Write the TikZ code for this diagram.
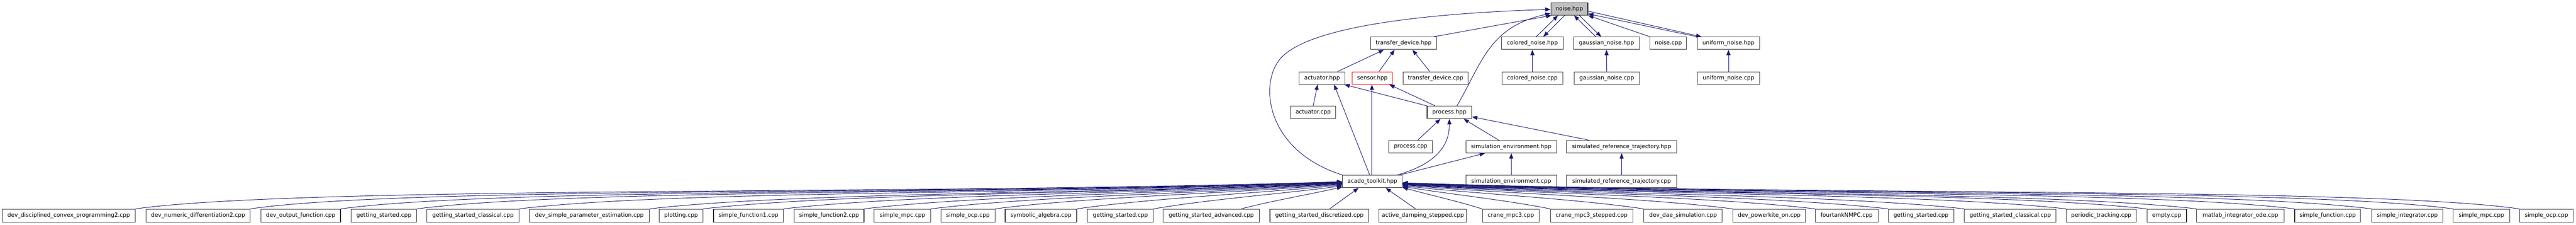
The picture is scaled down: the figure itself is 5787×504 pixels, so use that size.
\documentclass[tikz,border=0pt]{standalone}
\usepackage{fontspec}
\setmainfont{DejaVu Sans}
\usetikzlibrary{arrows.meta,calc}
\definecolor{edgec}{HTML}{191970}
\definecolor{rootfill}{HTML}{BFBFBF}
\tikzset{
  fbox/.style={draw=black!80, line width=1.3pt, fill=white, inner xsep=1pt, inner ysep=0pt,
    minimum height=28pt, font=\fontsize{12.6}{14}\selectfont, anchor=center},
  dep/.style={draw=edgec, line width=1.1pt, -{Triangle[length=12pt,width=9pt]}},
  depr/.style={draw=edgec, line width=1.1pt, {Triangle[length=12pt,width=9pt]}-},
}
\newcommand\bcurve[2]{\draw[depr] let \p1=(#1), \p2=(#2),
  \n1={min(1,abs((\x2)-(\x1))/2500)} in
  (\p1) .. controls ({\x1+((\x2)-(\x1))*(1/3+\n1*(0.35-1/3))},{\y1+((\y2)-(\y1))*(1/3+\n1*(0.5-1/3))})
  and ({\x2-((\x2)-(\x1))*(1/3+\n1*(0.14-1/3))},{\y2-((\y2)-(\y1))*(1/3+\n1*(0.85-1/3))}) .. (\p2);}
\begin{document}
\begin{tikzpicture}[x=1pt,y=-1pt]
\fill[white] (0,0) rectangle (5787,504);
\useasboundingbox (0,0) rectangle (5787,504);
% top part
\node[fbox, fill=rootfill, minimum width=83pt] (noise) at (3525.5,20) {noise.hpp};
\node[fbox, minimum width=148pt] (tdh) at (3153,97) {transfer\_device.hpp};
\node[fbox, minimum width=139pt] (cnh) at (3442.5,97) {colored\_noise.hpp};
\node[fbox, minimum width=148pt] (gnh) at (3609,97) {gaussian\_noise.hpp};
\node[fbox, minimum width=82pt] (ncpp) at (3748,97) {noise.cpp};
\node[fbox, minimum width=140pt] (unh) at (3883,97) {uniform\_noise.hpp};
\node[fbox, minimum width=103pt] (act) at (2970,175) {actuator.hpp};
\node[fbox, draw=red, minimum width=90pt] (sen) at (3083,175) {sensor.hpp};
\node[fbox, minimum width=146pt] (tdc) at (3225,175) {transfer\_device.cpp};
\node[fbox, minimum width=137pt] (cnc) at (3442.5,175) {colored\_noise.cpp};
\node[fbox, minimum width=147pt] (gnc) at (3609.5,175) {gaussian\_noise.cpp};
\node[fbox, minimum width=140pt] (unc) at (3883,175) {uniform\_noise.cpp};
\node[fbox, minimum width=102pt] (actc) at (2950,252) {actuator.cpp};
\node[fbox, minimum width=100pt] (proc) at (3256,252) {process.hpp};
\node[fbox, minimum width=98pt] (procc) at (3169,329) {process.cpp};
\node[fbox, minimum width=204pt] (seh) at (3395,329) {simulation\_environment.hpp};
\node[fbox, minimum width=248pt] (srth) at (3643,329) {simulated\_reference\_trajectory.hpp};
\node[fbox, minimum width=134pt] (acado) at (3083,407) {acado\_toolkit.hpp};
\node[fbox, minimum width=204pt] (sec) at (3395,407) {simulation\_environment.cpp};
\node[fbox, minimum width=248pt] (srtc) at (3643,407) {simulated\_reference\_trajectory.cpp};
% bottom row
\tikzset{brow/.style={fbox, minimum height=29pt}}
\node[brow, minimum width=299pt] (b1) at (154.5,483.5) {dev\_disciplined\_convex\_programming2.cpp};
\node[brow, minimum width=234pt] (b2) at (445,483.5) {dev\_numeric\_differentiation2.cpp};
\node[brow, minimum width=179pt] (b3) at (675.5,483.5) {dev\_output\_function.cpp};
\node[brow, minimum width=147pt] (b4) at (862.5,483.5) {getting\_started.cpp};
\node[brow, minimum width=207pt] (b5) at (1062.5,483.5) {getting\_started\_classical.cpp};
\node[brow, minimum width=270pt] (b6) at (1324,483.5) {dev\_simple\_parameter\_estimation.cpp};
\node[brow, minimum width=98pt] (b7) at (1530,483.5) {plotting.cpp};
\node[brow, minimum width=157pt] (b8) at (1681.5,483.5) {simple\_function1.cpp};
\node[brow, minimum width=157pt] (b9) at (1862.5,483.5) {simple\_function2.cpp};
\node[brow, minimum width=127pt] (b10) at (2027.5,483.5) {simple\_mpc.cpp};
\node[brow, minimum width=121pt] (b11) at (2174.5,483.5) {simple\_ocp.cpp};
\node[brow, minimum width=161pt] (b12) at (2338.5,483.5) {symbolic\_algebra.cpp};
\node[brow, minimum width=148pt] (b13) at (2517,483.5) {getting\_started.cpp};
\node[brow, minimum width=216pt] (b14) at (2721,483.5) {getting\_started\_advanced.cpp};
\node[brow, minimum width=222pt] (b15) at (2964,483.5) {getting\_started\_discretized.cpp};
\node[brow, minimum width=197pt] (b16) at (3196.5,483.5) {active\_damping\_stepped.cpp};
\node[brow, minimum width=128pt] (b17) at (3394,483.5) {crane\_mpc3.cpp};
\node[brow, minimum width=185pt] (b18) at (3575.5,483.5) {crane\_mpc3\_stepped.cpp};
\node[brow, minimum width=176pt] (b19) at (3781,483.5) {dev\_dae\_simulation.cpp};
\node[brow, minimum width=163pt] (b20) at (3974.5,483.5) {dev\_powerkite\_on.cpp};
\node[brow, minimum width=141pt] (b21) at (4148.5,483.5) {fourtankNMPC.cpp};
\node[brow, minimum width=147pt] (b22) at (4315.5,483.5) {getting\_started.cpp};
\node[brow, minimum width=206pt] (b23) at (4516,483.5) {getting\_started\_classical.cpp};
\node[brow, minimum width=157pt] (b24) at (4720.5,483.5) {periodic\_tracking.cpp};
\node[brow, minimum width=89pt] (b25) at (4867.5,483.5) {empty.cpp};
\node[brow, minimum width=196pt] (b26) at (5033,483.5) {matlab\_integrator\_ode.cpp};
\node[brow, minimum width=148pt] (b27) at (5229,483.5) {simple\_function.cpp};
\node[brow, minimum width=160pt] (b28) at (5408,483.5) {simple\_integrator.cpp};
\node[brow, minimum width=127pt] (b29) at (5574.5,483.5) {simple\_mpc.cpp};
\node[brow, minimum width=121pt] (b30) at (5720.5,483.5) {simple\_ocp.cpp};
% edges in the top part
\draw[dep] ($(tdh.north)+(68,0)$) -- ($(noise.south west)+(2,0)$);
\draw[dep] ($(cnh.north)+(8.5,0)$) -- ($(noise.south)+(-25.5,0)$);
\draw[dep] ($(noise.south)+(-10.5,0)$) -- ($(cnh.north)+(24.5,0)$);
\draw[dep] ($(gnh.north)+(-24,0)$) -- ($(noise.south)+(10.5,0)$);
\draw[dep] ($(noise.south)+(22.5,0)$) -- ($(gnh.north)+(-12,0)$);
\draw[dep] (ncpp.north west) -- (noise.south east);
\draw[dep] (unh.north west) -- ($(noise.east)+(0,11)$);
\draw[dep] ($(noise.east)+(0,5)$) -- ($(unh.north west)+(10,0)$);
\draw[dep] ($(proc.north)+(17,0)$) .. controls (3330,140) and (3345,60) .. ($(noise.west)+(0,10)$);
\draw[dep] ($(tdc.north)+(-13,0)$) -- ($(tdh.south)+(20,0)$);
\draw[dep] ($(sen.north)+(15,0)$) -- ($(tdh.south)+(-20,0)$);
\draw[dep] ($(act.north)+(35,0)$) -- ($(tdh.south)+(-44,0)$);
\draw[dep] (cnc.north) -- (cnh.south);
\draw[dep] (gnc.north) -- (gnh.south);
\draw[dep] (unc.north) -- (unh.south);
\draw[dep] ($(proc.north)+(-32,0)$) -- ($(sen.south)+(38,0)$);
\draw[dep] (proc.north west) -- ($(act.south east)+(-2,0)$);
\draw[dep] (actc.north) -- ($(act.south)+(-10,0)$);
\draw[dep] ($(procc.north)+(16,0)$) -- ($(proc.south)+(-20,0)$);
\draw[dep] ($(seh.north)+(-28,0)$) -- ($(proc.south)+(32,0)$);
\draw[dep] ($(srth.north)+(-73,0)$) -- ($(proc.east)+(0,10)$);
\draw[dep] (sec.north) -- (seh.south);
\draw[dep] (srtc.north) -- (srth.south);
\draw[dep] ($(acado.north)+(56,0)$) .. controls (3235,365) and (3256,320) .. (proc.south);
\draw[dep] ($(acado.north)+(62,0)$) -- ($(seh.south)+(-59,0)$);
\draw[dep] ($(acado.north)+(-6,0)$) -- ($(act.south)+(27,0)$);
\draw[dep] ($(acado.north)+(-1,0)$) -- ($(sen.south)+(-1,0)$);
\draw[dep] (acado.north west) .. controls (2850,340) and (2830,200) .. (2870,140)
  .. controls (2920,60) and (3200,30) .. ($(noise.west)+(0,1)$);
% edges from the bottom row
\bcurve{$(acado.north west)+(0,15)$}{b1.north east}
\bcurve{$(acado.north west)+(0,15.5)$}{b2.north east}
\bcurve{$(acado.north west)+(0,16)$}{b3.north east}
\bcurve{$(acado.north west)+(0,16.5)$}{b4.north east}
\bcurve{$(acado.north west)+(0,17)$}{b5.north east}
\bcurve{$(acado.north west)+(0,17.5)$}{b6.north east}
\bcurve{$(acado.north west)+(0,18)$}{b7.north east}
\bcurve{$(acado.north west)+(0,18.5)$}{b8.north east}
\bcurve{$(acado.north west)+(0,19)$}{b9.north east}
\bcurve{$(acado.north west)+(0,20)$}{b10.north east}
\bcurve{$(acado.north west)+(0,21)$}{b11.north east}
\bcurve{$(acado.north west)+(0,22.5)$}{b12.north east}
\bcurve{$(acado.north west)+(0,24.5)$}{b13.north east}
\bcurve{$(acado.north west)+(0,27)$}{$(b14.north east)+(-41,0)$}
\draw[dep] ($(b15.north)+(23,0)$) -- ($(acado.south)+(-31,0)$);
\draw[dep] ($(b16.north)+(-16.5,0)$) -- ($(acado.south)+(30,0)$);
\bcurve{$(acado.north east)+(0,28)$}{b17.north west}
\bcurve{$(acado.north east)+(0,26)$}{b18.north west}
\bcurve{$(acado.north east)+(0,24.5)$}{b19.north west}
\bcurve{$(acado.north east)+(0,23)$}{b20.north west}
\bcurve{$(acado.north east)+(0,22)$}{b21.north west}
\bcurve{$(acado.north east)+(0,21.5)$}{b22.north west}
\bcurve{$(acado.north east)+(0,21)$}{b23.north west}
\bcurve{$(acado.north east)+(0,20.5)$}{b24.north west}
\bcurve{$(acado.north east)+(0,20)$}{b25.north west}
\bcurve{$(acado.north east)+(0,19.5)$}{b26.north west}
\bcurve{$(acado.north east)+(0,19)$}{b27.north west}
\bcurve{$(acado.north east)+(0,18.5)$}{b28.north west}
\bcurve{$(acado.north east)+(0,18)$}{b29.north west}
\bcurve{$(acado.north east)+(0,17.5)$}{b30.north west}
\end{tikzpicture}
\end{document}
